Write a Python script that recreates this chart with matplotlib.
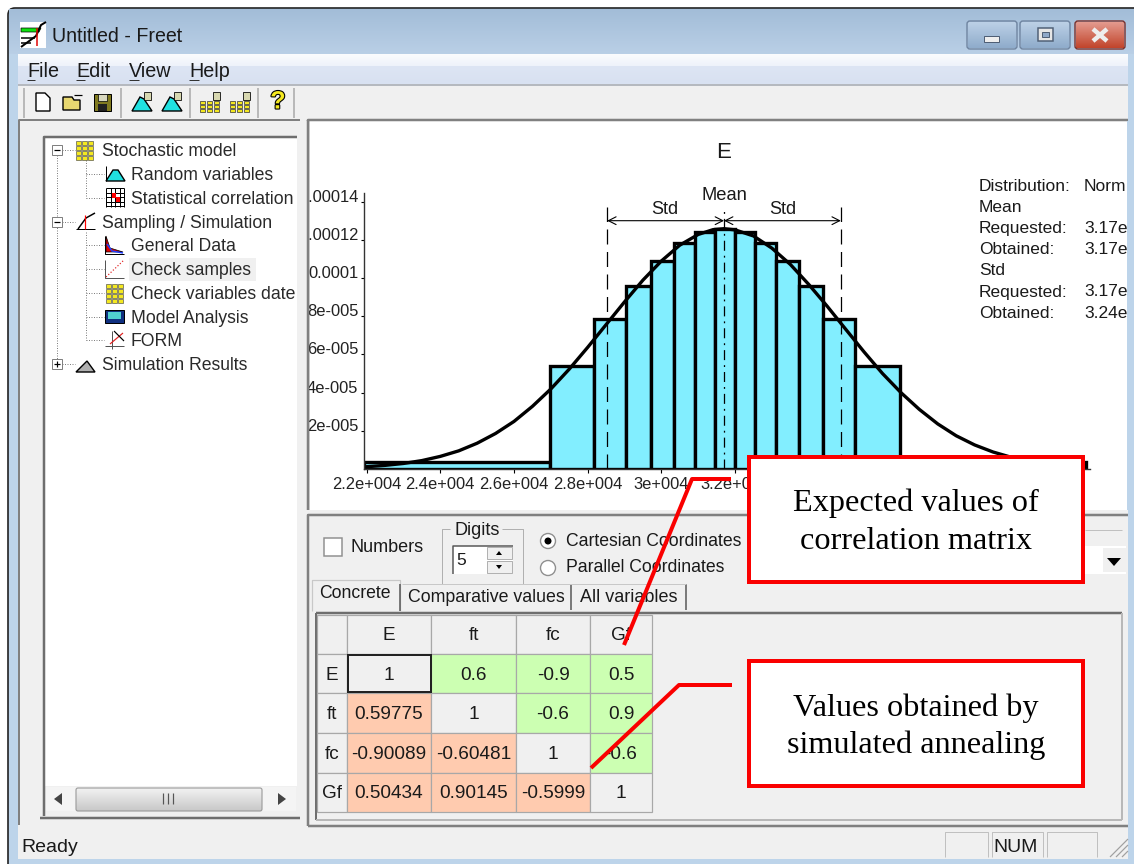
import numpy as np
import matplotlib
matplotlib.use('Agg')
import matplotlib.pyplot as plt
import matplotlib.patheffects as pe
from matplotlib.patches import Rectangle, Polygon, Circle, FancyBboxPatch
from matplotlib.transforms import Bbox, TransformedBbox

W, H = 1134, 864
plt.rcParams['font.family'] = ['Liberation Sans', 'DejaVu Sans']

# histogram of E
bin_edges = [21930, 26980, 28176, 29042, 29720, 30342, 30906, 31455, 32003,
             32551, 33113, 33721, 34386, 35251, 36480, 41530]
bin_heights = [3.7e-6, 5.4e-5, 7.85e-5, 9.6e-5, 1.09e-4, 1.185e-4, 1.24e-4, 1.256e-4,
               1.24e-4, 1.185e-4, 1.09e-4, 9.6e-5, 7.85e-5, 5.4e-5, 3.7e-6]
curve_x = [21930, 22500, 23000, 23500, 24000, 24500, 25000, 25500, 26000, 26500, 27000,
           27500, 28000, 28500, 29000, 29500, 30000, 30500, 31000, 31400, 31700, 32000,
           32500, 33000, 33500, 34000, 34500, 35000, 35500, 36000, 36500, 37000, 37500,
           38000, 38500, 39000, 39500, 40000, 40500, 41000, 41530]
curve_y = [1.1e-6, 1.9e-6, 2.9e-6, 4.4e-6, 6.6e-6, 9.5e-6, 1.35e-5, 1.86e-5, 2.49e-5, 3.28e-5, 4.19e-5,
           5.23e-5, 6.37e-5, 7.56e-5, 8.75e-5, 9.89e-5, 1.089e-4, 1.172e-4, 1.228e-4, 1.253e-4, 1.258e-4, 1.252e-4,
           1.22e-4, 1.156e-4, 1.071e-4, 9.66e-5, 8.52e-5, 7.32e-5, 6.13e-5, 5.0e-5, 4.0e-5, 3.12e-5, 2.36e-5,
           1.74e-5, 1.26e-5, 8.9e-6, 6.1e-6, 4.1e-6, 2.7e-6, 1.7e-6, 1.1e-6]
mean_val = 31700
std_val = 3170
x_ticks = [22000, 24000, 26000, 28000, 30000, 32000]
x_labels = ['2.2e+004', '2.4e+004', '2.6e+004', '2.8e+004', '3e+004', '3.2e+004']
y_ticks = [2e-5, 4e-5, 6e-5, 8e-5, 1e-4, 1.2e-4, 1.4e-4]
y_labels = ['2e-005', '4e-005', '6e-005', '8e-005', '0.0001', '0.00012', '0.00014']

info_labels = ['Distribution:', 'Mean', 'Requested:', 'Obtained:', 'Std', 'Requested:', 'Obtained:']
info_values = ['Norm', '', '3.17e', '3.17e', '', '3.17e', '3.24e']

# correlation table
variables = ['E', 'ft', 'fc', 'Gf']
corr_text = [['1', '0.6', '-0.9', '0.5'],
             ['0.59775', '1', '-0.6', '0.9'],
             ['-0.90089', '-0.60481', '1', '-0.6'],
             ['0.50434', '0.90145', '-0.5999', '1']]

tree_rows = [('Stochastic model', 0), ('Random variables', 1), ('Statistical correlation', 1),
             ('Sampling / Simulation', 0), ('General Data', 1), ('Check samples', 1),
             ('Check variables date', 1), ('Model Analysis', 1), ('FORM', 1),
             ('Simulation Results', 0)]
tree_y = [150, 174, 198, 222, 245, 269, 293, 317, 340, 364]

menu_items = ['File', 'Edit', 'View', 'Help']
menu_x = [27, 76, 129, 189]
menu_ul = [8, 9, 10, 10]

GRAY = '#f0f0f0'
EDGE = '#808080'
CYAN = '#82eeff'
GREEN = '#ccffb2'
ORANGE = '#ffcbaf'
RED = '#fa0000'

fig = plt.figure(figsize=(W / 100, H / 100), dpi=100, facecolor='white')


def pixel_axes(z):
    a = fig.add_axes([0, 0, 1, 1], zorder=z)
    a.set_xlim(0, W)
    a.set_ylim(H, 0)
    a.axis('off')
    a.patch.set_alpha(0)
    return a


base = pixel_axes(0)
top = pixel_axes(2)


def box(a, x0, y0, x1, y1, fc='none', ec='none', lw=0.0, z=1):
    a.add_patch(Rectangle((x0, y0), x1 - x0, y1 - y0, fc=fc, ec=ec, lw=lw * 0.72, zorder=z))


def line(a, xs, ys, c='k', lw=1.0, z=3, **kw):
    a.plot(xs, ys, color=c, lw=lw * 0.72, zorder=z, solid_capstyle=kw.pop('cap', 'butt'), **kw)


def text(a, x, y, s, size=13, ha='left', va='center', **kw):
    return a.text(x, y + 1.5, s, fontsize=size, ha=ha, va=va, color=kw.pop('color', '#1a1a1a'), zorder=6, **kw)


def vgrad(a, x0, y0, x1, y1, c0, c1, z=1):
    c0 = np.array(matplotlib.colors.to_rgb(c0))
    c1 = np.array(matplotlib.colors.to_rgb(c1))
    g = np.linspace(0, 1, 32)[:, None, None] * (c1 - c0)[None, None, :] + c0
    a.imshow(g, extent=(x0, x1, y1, y0), aspect='auto', zorder=z, interpolation='bilinear')
    a.set_xlim(0, W)
    a.set_ylim(H, 0)


# window frame
base.add_patch(FancyBboxPatch((8, 8), W + 20, H, boxstyle='round,pad=0,rounding_size=7',
                              fc='#bdd4ea', ec='#222222', lw=1.2, zorder=0.5))
vgrad(base, 9, 9, W, 54, '#a3bdd8', '#b9cfe6')
box(base, 18, 54, 1128, 859, fc=GRAY, z=1.2)
vgrad(base, 18, 54, 1128, 66, '#fbfcfe', '#eef2fa', z=1.3)
vgrad(base, 18, 66, 1128, 84, '#dde5f4', '#d8e1f1', z=1.3)
line(base, [18, 1128], [85, 85], c='#b5b9bf', lw=2, z=2)
text(base, 52, 35, 'Untitled - Freet', size=14.1)

# title bar icon
box(base, 20, 22, 46, 48, fc='white', z=2)
base.add_patch(Polygon([[21, 28], [41, 28], [39, 32], [21, 32]], fc='#10e010', ec='k', lw=0.5, zorder=3))
line(base, [21, 36, 41, 46], [47, 36, 25, 22], lw=2)
line(base, [21, 35], [38, 38], lw=1.5)
line(base, [21, 31], [43, 43], lw=1.5)
line(base, [37, 37], [28, 46], c='#e00000', lw=1.5)

# caption buttons
for x0, x1, c0, c1 in [(967, 1017, '#bcd0e6', '#8faccb'), (1020, 1070, '#bcd0e6', '#8faccb'),
                       (1075, 1125, '#e39a8e', '#c2452c')]:
    vgrad(base, x0 + 1, 22, x1 - 1, 48, c0, c1, z=2)
    base.add_patch(FancyBboxPatch((x0, 21), x1 - x0, 28, boxstyle='round,pad=0,rounding_size=3',
                                  fc='none', ec='#6f84a0' if x0 < 1070 else '#7a2f2a', lw=1, zorder=3))
box(base, 984, 36, 999, 42, fc='#eeeeee', ec='#4f5f75', lw=1, z=4)
box(base, 1038, 28, 1053, 41, fc='#e6e6e6', ec='#4f5f75', lw=1.5, z=4)
box(base, 1042, 32, 1049, 37, fc='#8fa8c8', ec='#4f5f75', lw=1, z=5)
line(base, [1093, 1107], [29, 41], c='#eeeeee', lw=4.5, z=4)
line(base, [1093, 1107], [41, 29], c='#eeeeee', lw=4.5, z=4)

# menu
for name, mx, ul in zip(menu_items, menu_x, menu_ul):
    text(base, mx, 70, name, size=14.2)
    line(base, [mx, mx + ul], [80, 80], c='#333333', lw=1)

# toolbar
for sx in [24, 121, 190, 258, 294]:
    line(base, [sx, sx], [88, 118], c='#a8a8a8', lw=1.5)
base.add_patch(Polygon([[36, 93], [45, 93], [50, 98], [50, 111], [36, 111]], fc='white', ec='k', lw=1, zorder=3))
base.add_patch(Polygon([[63, 97], [72, 97], [74, 100], [80, 100], [80, 110], [63, 110]],
                       fc='#e8d870', ec='k', lw=1, zorder=3))
line(base, [74, 82], [95, 95], lw=1.2)
box(base, 94, 94, 111, 111, fc='#807a20', ec='k', lw=1, z=3)
box(base, 98, 94, 107, 101, fc='#d8d8c0', ec='k', lw=0.7, z=4)
box(base, 98, 104, 107, 111, fc='#202020', z=4)
for px in [132, 162]:
    base.add_patch(Polygon([[px, 111], [px + 8, 97], [px + 12, 99], [px + 20, 111]], fc='#20e0e0', ec='k', lw=1, zorder=3))
    box(base, px + 12, 92, px + 19, 100, fc='#d8d8b0', ec='k', lw=0.8, z=4)
for px in [200, 230]:
    for i in range(3):
        for j in range(3):
            box(base, px + i * 7, 101 + j * 4, px + i * 7 + 5, 101 + j * 4 + 3, fc='#f4e820', ec='#333333', lw=0.7, z=3)
    box(base, px + 13, 92, px + 20, 100, fc='#d8d8b0', ec='k', lw=0.8, z=4)
q = text(base, 278, 100, '?', size=18, ha='center', fontweight='bold', color='#f4e820')
q.set_path_effects([pe.withStroke(linewidth=1.6, foreground='k')])

# left tree panel
box(base, 20, 120, 300, 824, fc=GRAY, z=1.5)
line(base, [19, 19, 300], [825, 120, 120], c='#808080', lw=2, z=2)
box(base, 44, 138, 297, 786, fc='white', z=2)
line(base, [44, 44, 299], [816, 137, 137], c='#6e6e6e', lw=2.5, z=3)
line(base, [40, 300], [818, 818], c='#6e6e6e', lw=2.5, z=3)
box(base, 129, 258, 256, 281, fc=GRAY, z=2.5)
dots = dict(ls=(0, (1, 1.5)), c='#808080', lw=1, z=2.7)
line(base, [57, 57], [155, 359], **dots)
line(base, [86, 86], [160, 198], **dots)
line(base, [86, 86], [232, 340], **dots)
for (name, lev), ry in zip(tree_rows, tree_y):
    tx = 131 if lev else 102
    t = text(base, tx, ry, name, size=12.7, color='#2a2a2a')
    t.set_clip_on(True)
    t.set_clip_box(TransformedBbox(Bbox([[40, 130], [297, 400]]), base.transData))
    if lev:
        line(base, [86, 104], [ry, ry], **dots)
    else:
        line(base, [62, 75], [ry, ry], **dots)
        box(base, 52, ry - 5, 62, ry + 5, fc='white', ec='#808080', lw=1, z=3)
        line(base, [54, 60], [ry, ry], c='k', lw=1.2, z=4)
        if name == 'Simulation Results':
            line(base, [57, 57], [ry - 3, ry + 3], c='k', lw=1.2, z=4)


def grid_icon(x, y, c='#f4e820', n=4):
    for i in range(3):
        for j in range(n):
            box(base, x + i * 6, y + j * 5, x + i * 6 + 5, y + j * 5 + 4, fc=c, ec='#444444', lw=0.6, z=3)


grid_icon(76, 141)
grid_icon(106, 284)
base.add_patch(Polygon([[106, 181], [113, 170], [118, 170], [125, 181]], fc='#20e0e0', ec='k', lw=1, zorder=3))
line(base, [106, 106], [166, 181], lw=1)
for i in range(5):
    line(base, [106 + i * 4.5] * 2, [188, 207], lw=1)
    line(base, [106, 124], [188 + i * 4.5] * 2, lw=1)
box(base, 112, 193, 116, 198, fc='red', z=4)
box(base, 116, 197, 120, 202, fc='red', z=4)
line(base, [76, 95], [229, 229], lw=1)
line(base, [78, 86, 95], [229, 218, 213], lw=1.5)
line(base, [85, 85], [215, 229], c='red', lw=1.2)
line(base, [105, 105, 124], [236, 254, 254], lw=1)
base.add_patch(Polygon([[106, 236], [110, 248], [123, 252], [106, 252]], fc='#e00000', ec='k', lw=0.5, zorder=3))
line(base, [107, 112, 123], [244, 251, 253], c='#2040ff', lw=1.5, z=4)
line(base, [105, 105, 124], [260, 278, 278], lw=1, c='#555555')
line(base, [106, 124], [277, 260], c='#e02020', lw=1.2, ls=':')
box(base, 105, 310, 124, 323, fc='#103080', ec='k', lw=1, z=3)
box(base, 108, 312, 121, 319, fc='#50d0d0', z=4)
line(base, [105, 124], [346, 346], lw=1, c='#555555')
line(base, [112, 112], [331, 349], lw=1, c='#555555')
line(base, [110, 123], [344, 333], c='#e02020', lw=1.2)
line(base, [114, 124], [331, 341], lw=1.2)
base.add_patch(Polygon([[76, 372], [82, 366], [87, 361], [95, 372]], fc='#b0b0b0', ec='k', lw=1, zorder=3))

# tree scrollbar
box(base, 46, 787, 296, 811, fc='#f4f4f4', z=2.6)
vgrad(base, 76, 788, 262, 811, '#f2f2f2', '#c8c8c8', z=3)
base.add_patch(FancyBboxPatch((76, 788), 186, 23, boxstyle='round,pad=0,rounding_size=2',
                              fc='none', ec='#9a9a9a', lw=0.8, zorder=3.5))
for gx in [163, 168, 173]:
    line(base, [gx, gx], [793, 804], c='#555555', lw=1.2, z=4)
base.add_patch(Polygon([[54, 799], [62, 793], [62, 805]], fc='#444444', zorder=4))
base.add_patch(Polygon([[286, 799], [278, 793], [278, 805]], fc='#444444', zorder=4))

# chart panel
box(base, 308, 120, 1128, 510, fc='white', z=1.6)
line(base, [308, 308, 1128], [510, 120, 120], c='#808080', lw=2.5, z=2)

ax = fig.add_axes([364 / W, 1 - 469 / H, 726 / W, 276 / H], zorder=1)
ax.patch.set_alpha(0)
ax.set_xlim(21930, 41631)
ax.set_ylim(0, 1.445e-4)
for s in ['top', 'right']:
    ax.spines[s].set_visible(False)
for s in ['left', 'bottom']:
    ax.spines[s].set_color('#333333')
    ax.spines[s].set_linewidth(1)
lefts = np.array(bin_edges[:-1])
widths = np.diff(bin_edges)
ax.bar(lefts, bin_heights, widths, align='edge', color=CYAN, edgecolor='k', linewidth=2.4)
ax.plot(curve_x, curve_y, color='k', lw=2.4, solid_capstyle='round')
ax.set_xticks(x_ticks, x_labels, fontsize=11.9, color='#222222')
ax.set_yticks(y_ticks, y_labels, fontsize=11.9, color='#222222', va='baseline')
ax.tick_params(axis='x', length=3, width=0.8, pad=3)
ax.tick_params(axis='y', length=2, width=0.8, pad=2)
for xv, st in [(mean_val - std_val, (0, (12, 6))), (mean_val + std_val, (0, (12, 6))),
               (mean_val, (0, (8, 4, 1.5, 4)))]:
    ax.plot([xv, xv], [0, 1.37e-4], color='k', lw=0.9, ls=st, zorder=5)
for x0, x1 in [(mean_val - std_val, mean_val), (mean_val, mean_val + std_val)]:
    ax.annotate('', xy=(x1, 1.3e-4), xytext=(x0, 1.3e-4), zorder=6,
                arrowprops=dict(arrowstyle='<->,head_length=0.55,head_width=0.28', color='k', lw=0.8,
                                shrinkA=0, shrinkB=0))

text(top, 724, 151, 'E', size=16, ha='center')
text(top, 724, 194, 'Mean', size=13.2, ha='center')
text(top, 665, 208, 'Std', size=13, ha='center')
text(top, 783, 208, 'Std', size=13, ha='center')
for i, (lab, val) in enumerate(zip(info_labels, info_values)):
    iy = 185 + i * 21.1
    text(top, 979, iy, lab, size=12.5)
    if val:
        text(top, 1084, iy, val, size=12.5)

# strips that cut the clipped axis labels, as the panel does
box(top, 297, 121, 308, 510, fc=GRAY, z=1)
line(top, [308, 308], [120, 510], c='#808080', lw=2.5, z=2)
box(top, 1127, 121, 1134, 510, fc='#bdd4ea', z=1)

# lower panel
box(base, 308, 515, 1128, 826, fc=GRAY, z=1.7)
line(base, [308, 308, 1128], [826, 515, 515], c='#808080', lw=2.5, z=2)
line(base, [308, 1128], [826, 826], c='#808080', lw=2.5, z=2)
box(base, 324, 538, 342, 556, fc='white', ec='#909090', lw=1.5, z=3)
text(base, 350, 546, 'Numbers', size=13)
line(base, [450, 442, 442, 523, 523, 502], [529, 529, 584, 584, 529, 529], c='#b0b0b0', lw=1, z=3)
text(base, 455, 529, 'Digits', size=13)
box(base, 453, 546, 513, 574, fc='white', z=3)
line(base, [453, 453, 513], [574, 546, 546], c='#555555', lw=1.5, z=4)
box(base, 487, 547, 512, 559, fc=GRAY, ec='#a0a0a0', lw=0.8, z=4)
box(base, 487, 561, 512, 573, fc=GRAY, ec='#a0a0a0', lw=0.8, z=4)
base.add_patch(Polygon([[496, 555], [502, 555], [499, 551]], fc='k', zorder=5))
base.add_patch(Polygon([[496, 565], [502, 565], [499, 569]], fc='k', zorder=5))
text(base, 456, 559, '5', size=12.5)
base.add_patch(Circle((548, 541), 7.5, fc='white', ec='#909090', lw=1, zorder=3))
base.add_patch(Circle((548, 541), 3.5, fc='k', zorder=4))
base.add_patch(Circle((548, 568), 7.5, fc='white', ec='#909090', lw=1, zorder=3))
text(base, 566, 540, 'Cartesian Coordinates', size=12.7)
text(base, 566, 566, 'Parallel Coordinates', size=12.7)
box(base, 1085, 546, 1126, 574, fc='white', z=3)
box(base, 1103, 548, 1126, 572, fc=GRAY, z=4)
base.add_patch(Polygon([[1107, 558], [1121, 558], [1114, 566]], fc='k', zorder=5))
line(base, [1085, 1122], [530, 530], c='#c0c0c0', lw=1, z=3)

# tabs
line(base, [316, 1122], [613, 613], c='#6e6e6e', lw=2.5, z=3)
line(base, [316, 316], [613, 820], c='#6e6e6e', lw=2, z=3)
line(base, [316, 1122], [820, 820], c='#b8b8b8', lw=2, z=3)
line(base, [1122, 1122], [613, 820], c='#b8b8b8', lw=2, z=3)
line(base, [312, 312, 400, 400], [611, 580, 580, 611], c='#c8c8c8', lw=1.2, z=3)
line(base, [400, 400], [584, 611], c='#555555', lw=1.5, z=3)
line(base, [571, 571], [584, 610], c='#555555', lw=1.5, z=3)
line(base, [686, 686], [584, 610], c='#555555', lw=1.5, z=3)
line(base, [402, 686], [584, 584], c='#c8c8c8', lw=1, z=3)
text(base, 355, 592.5, 'Concrete', size=12.7, ha='center')
text(base, 486, 595.5, 'Comparative values', size=12.8, ha='center')
text(base, 629, 595.5, 'All variables', size=13, ha='center')

# correlation grid
col_edges = [317, 347, 431, 516, 590, 652]
row_edges = [615, 654, 693, 733, 773, 812]
for r in range(5):
    for c in range(5):
        x0, x1 = col_edges[c], col_edges[c + 1]
        y0, y1 = row_edges[r], row_edges[r + 1]
        if r == 0 or c == 0:
            fc, s = GRAY, ('' if r == c else variables[max(r, c) - 1])
        else:
            s = corr_text[r - 1][c - 1]
            fc = GRAY if r == c else (GREEN if c > r else ORANGE)
        box(base, x0, y0, x1, y1, fc=fc, ec='#a8a8a8', lw=1.2, z=3)
        if s:
            text(base, (x0 + x1) / 2, (y0 + y1) / 2, s, size=13.7, ha='center')
box(base, 348, 655, 431, 692, ec='#222222', lw=2, z=4)

# status bar
text(base, 21, 846, 'Ready', size=14)
for x0, x1 in [(945, 988), (992, 1043), (1047, 1097)]:
    line(base, [x0, x0, x1, x1], [857, 832, 832, 857], c='#c0c0c0', lw=1, z=3)
text(base, 1016, 846, 'NUM', size=14, ha='center')
for k in [6, 12, 18]:
    line(base, [1128 - k, 1128], [857, 857 - k], c='#a0a0a0', lw=1.2, z=3)
box(base, 9, 859, W, H, fc='#bdd4ea', z=2)

# red callouts
line(top, [731, 692, 624], [479, 479, 645], c=RED, lw=4, z=3)
line(top, [732, 679, 591], [685, 685, 768], c=RED, lw=4, z=3)
box(top, 749, 457, 1083, 582, fc='white', ec=RED, lw=4, z=4)
box(top, 749, 661, 1083, 786, fc='white', ec=RED, lw=4, z=4)
for cx, cy, s in [(916, 502, 'Expected values of'), (916, 540, 'correlation matrix'),
                  (916, 707, 'Values obtained by'), (916, 744, 'simulated annealing')]:
    text(top, cx, cy, s, size=23.2, ha='center', family='Liberation Serif', color='k')

fig.savefig('out.png', dpi=100)
